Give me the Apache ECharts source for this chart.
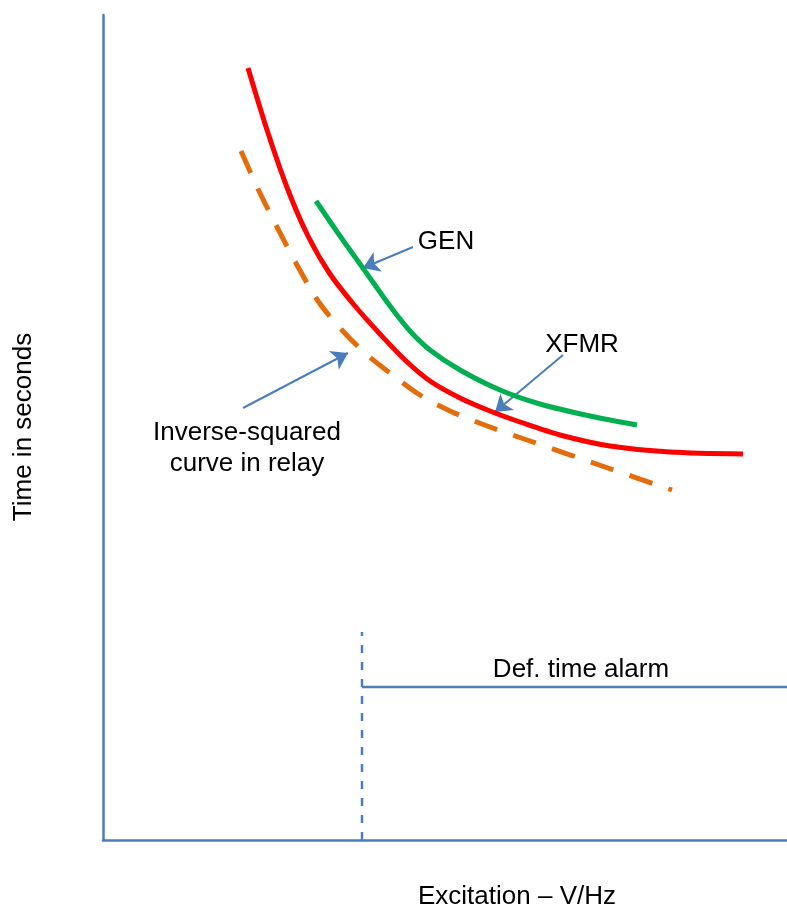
<!DOCTYPE html>
<html>
<head>
<meta charset="utf-8">
<script src="https://cdn.jsdelivr.net/npm/echarts@6/dist/echarts.min.js"></script>
<style>
html,body{margin:0;padding:0;background:#fff;}
#chart{width:787px;height:909px;}
</style>
</head>
<body>
<div id="chart"></div>
<script>
// Values (arbitrary units: excitation on x, time on y)
const xRange = [0, 684];
const yRange = [0, 825];
const redCurve = [[145,772],[165,707],[185,650],[205,604],[227,566],[252,534],[277,506],[302,480],[327,459],[357,442],[387,429],[417,418],[457,405],[507,394],[567,388],[640,386]];
const greenCurve = [[213,639],[237,604],[262,569],[287,534],[307,509],[327,490],[357,470],[397,450],[437,436],[487,424],[534,415]];
const orangeCurve = [[138,689],[155,651],[174,613],[194,575],[215,539],[237,512],[262,487],[287,467],[317,445],[347,429],[387,413],[430,398],[505,372],[569,350]];
const pickupLine = [[259,0],[259,208]];
const alarmLine = [[259,153],[684,153]];
const arrows = [
  [[310,593],[260,572]],
  [[460,485],[392,428]],
  [[140,432],[245,487]]
];
const annotations = [
  [343,598,'GEN'],
  [479,495,'XFMR'],
  [144,392,'Inverse-squared\ncurve in relay'],
  [478,170,'Def. time alarm']
];
const xTitle = 'Excitation – V/Hz';
const yTitle = 'Time in seconds';

const blue = '#4a7ebb';
const font = '"Liberation Sans", Arial, sans-serif';

const chart = echarts.init(document.getElementById('chart'), null, {renderer:'canvas'});
chart.setOption({
  animation: false,
  backgroundColor: '#ffffff',
  grid: {left:103, right:0, top:15, bottom:69, containLabel:false},
  xAxis: {
    type:'value', min:xRange[0], max:xRange[1],
    axisLine:{show:true, onZero:false, lineStyle:{color:blue, width:2.5}},
    axisTick:{show:false}, axisLabel:{show:false}, splitLine:{show:false}
  },
  yAxis: {
    type:'value', min:yRange[0], max:yRange[1],
    axisLine:{show:true, onZero:false, lineStyle:{color:blue, width:2.5}},
    axisTick:{show:false}, axisLabel:{show:false}, splitLine:{show:false}
  },
  graphic: [
    {type:'text', left:418, top:884, style:{text:xTitle, font:'26px '+font, fill:'#000'}},
    {type:'text', x:24, y:427, rotation:Math.PI/2,
     style:{text:yTitle, font:'26px '+font, fill:'#000', align:'center', verticalAlign:'middle'}}
  ],
  series: [
    {type:'line', data:orangeCurve, smooth:0.3, showSymbol:false, silent:true,
     lineStyle:{color:'#E46C0A', width:5, type:[24,17], cap:'butt'}},
    {type:'line', data:redCurve, smooth:0.3, showSymbol:false, silent:true,
     lineStyle:{color:'#FF0000', width:5, cap:'butt'}},
    {type:'line', data:greenCurve, smooth:0.3, showSymbol:false, silent:true,
     lineStyle:{color:'#00B050', width:5, cap:'butt'}},
    {type:'line', data:pickupLine, showSymbol:false, silent:true,
     lineStyle:{color:blue, width:2.5, type:[8,9]}},
    {type:'line', data:alarmLine, showSymbol:false, silent:true,
     lineStyle:{color:blue, width:2.5}},
    {type:'lines', coordinateSystem:'cartesian2d', silent:true,
     symbol:['none','arrow'], symbolSize:[13,16],
     lineStyle:{color:blue, width:2, opacity:1},
     data: arrows.map(a => ({coords:a}))},
    {type:'scatter', symbolSize:0, silent:true,
     itemStyle:{opacity:1, color:'#000'},
     data: annotations.map(a => ({value:[a[0],a[1]], name:a[2]})),
     label:{show:true, position:[0,0], align:'center', verticalAlign:'middle', opacity:1,
       formatter: p => p.name, fontSize:26, lineHeight:31, color:'#000', fontFamily:font,
       textBorderWidth:0, textBorderColor:'transparent', textShadowBlur:0}}
  ]
});
</script>
</body>
</html>
